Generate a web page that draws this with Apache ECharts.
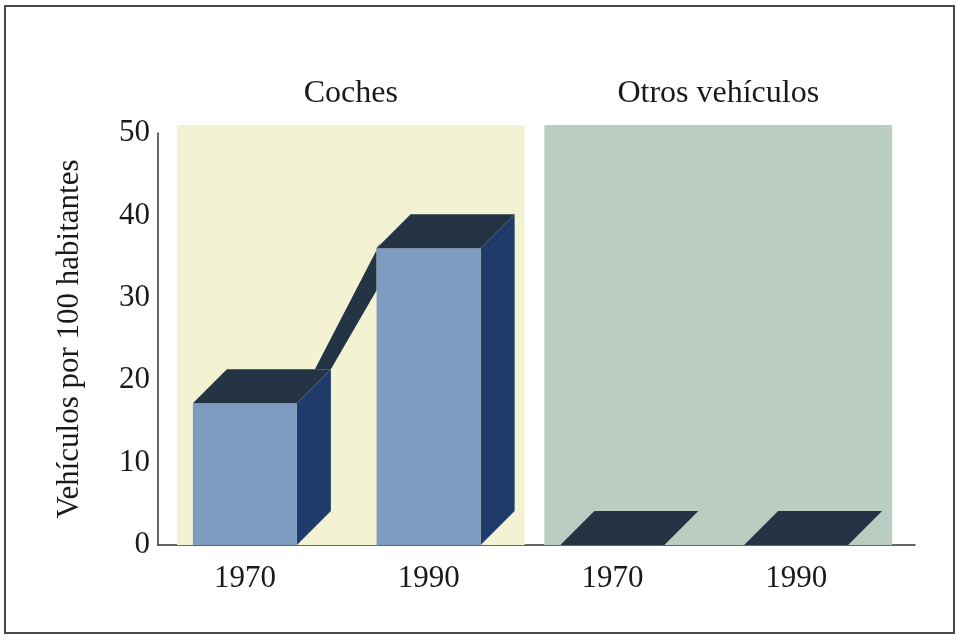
<!DOCTYPE html>
<html>
<head>
<meta charset="utf-8">
<title>Vehículos por 100 habitantes</title>
<script src="https://cdn.jsdelivr.net/npm/echarts@6/dist/echarts.min.js"></script>
<style>
  html, body { margin: 0; padding: 0; background: #fff; }
  #main { width: 957px; height: 636px; }
</style>
</head>
<body>
<div id="main"></div>
<script>
// datos
var years = ['1970', '1990', '1970', '1990'];
var groups = ['Coches', 'Otros vehículos'];
var groupOf = [0, 0, 1, 1];
var values = [17.2, 36, 0, 0];
var yTicks = [0, 10, 20, 30, 40, 50];

var FONT = '"Liberation Serif", "Times New Roman", serif';
var DX = 34, DY = -34;          // profundidad 3D
var BAR_W = 104;
var panelColors = ['#f3f2d2', '#b9cdc2'];

var chart = echarts.init(document.getElementById('main'));

function barBox(api, i) {
    var base = api.coord([i, 0]);
    var top = api.coord([i, values[i]]);
    return {x0: base[0] - BAR_W / 2, x1: base[0] + BAR_W / 2, y0: base[1], y1: top[1]};
}

function renderPanel(params, api) {
    var g = api.value(0);
    var idx = [];
    for (var i = 0; i < groupOf.length; i++) if (groupOf[i] === g) idx.push(i);
    var a = barBox(api, idx[0]);
    var b = barBox(api, idx[idx.length - 1]);
    var yTop = api.coord([0, yTicks[yTicks.length - 1]])[1] - 8;
    var left = a.x0 - 16, right = b.x1 + DX + 10;
    return {
        type: 'group',
        children: [{
            type: 'rect',
            shape: {x: left, y: yTop, width: right - left, height: a.y0 - yTop},
            style: {fill: panelColors[g]}
        }, {
            type: 'text',
            x: (left + right) / 2, y: yTop - 31,
            style: {text: groups[g], font: '32px ' + FONT, fill: '#1a1a1a', align: 'center', verticalAlign: 'middle'}
        }]
    };
}

function renderBar(params, api) {
    var i = api.value(0);
    var r = barBox(api, i);
    var children = [];
    // cinta que une las barras del mismo grupo
    if (i > 0 && groupOf[i - 1] === groupOf[i] && values[i - 1] > 0 && values[i] > 0) {
        var p = barBox(api, i - 1);
        children.push({
            type: 'polygon',
            shape: {points: [
                [p.x1 + DX - 16, p.y1 + DY], [p.x1 + DX, p.y1 + DY],
                [r.x0, r.y1 + 42], [r.x0, r.y1], [r.x0 + 4, r.y1 - 6]
            ]},
            style: {fill: '#233444'}
        });
    }
    children.push({
        type: 'polygon',
        shape: {points: [[r.x1, r.y1], [r.x1 + DX, r.y1 + DY], [r.x1 + DX, r.y0 + DY], [r.x1, r.y0]]},
        style: {fill: '#1e3b6b'}
    });
    children.push({
        type: 'rect',
        shape: {x: r.x0, y: r.y1, width: BAR_W, height: r.y0 - r.y1},
        style: {fill: '#7d9cbf'}
    });
    children.push({
        type: 'polygon',
        shape: {points: [[r.x0, r.y1], [r.x0 + DX, r.y1 + DY], [r.x1 + DX, r.y1 + DY], [r.x1, r.y1]]},
        style: {fill: '#243445'}
    });
    return {type: 'group', children: children};
}

var barData = [];
for (var i = 0; i < values.length; i++) barData.push([i, values[i]]);

var option = {
    backgroundColor: '#ffffff',
    animation: false,
    graphic: [{
        type: 'rect',
        shape: {x: 5, y: 6, width: 949, height: 627},
        style: {fill: 'none', stroke: '#4a4a4a', lineWidth: 2},
        z: 100
    }],
    grid: [
        {left: 153, right: 69, top: 133, bottom: 91},
        {left: 158, right: 42, top: 133, bottom: 91}
    ],
    xAxis: [{
        type: 'category',
        gridIndex: 0,
        data: years,
        axisLine: {show: false},
        axisTick: {show: false},
        axisLabel: {fontFamily: FONT, fontSize: 31, color: '#1a1a1a', margin: 18}
    }, {
        type: 'value',
        gridIndex: 1,
        min: 0, max: 1,
        axisLine: {show: true, lineStyle: {color: '#333', width: 1.5}},
        axisTick: {show: false},
        axisLabel: {show: false},
        splitLine: {show: false}
    }],
    yAxis: [{
        type: 'value',
        gridIndex: 0,
        min: 0, max: 50, interval: 10,
        offset: -5,
        name: 'Vehículos por 100 habitantes',
        nameLocation: 'middle',
        nameRotate: 90,
        nameGap: 73,
        nameTextStyle: {fontFamily: FONT, fontSize: 31, color: '#1a1a1a'},
        axisLine: {show: true, lineStyle: {color: '#333', width: 1.5}},
        axisTick: {show: false},
        axisLabel: {fontFamily: FONT, fontSize: 31, color: '#1a1a1a', margin: 8},
        splitLine: {show: false}
    }, {
        type: 'value',
        gridIndex: 1,
        show: false
    }],
    series: [{
        type: 'custom',
        name: 'paneles',
        xAxisIndex: 0, yAxisIndex: 0,
        renderItem: renderPanel,
        data: [[0], [1]],
        z: 1,
        silent: true
    }, {
        type: 'custom',
        name: 'vehiculos',
        xAxisIndex: 0, yAxisIndex: 0,
        renderItem: renderBar,
        data: barData,
        z: 2
    }]
};

chart.setOption(option);
</script>
</body>
</html>
